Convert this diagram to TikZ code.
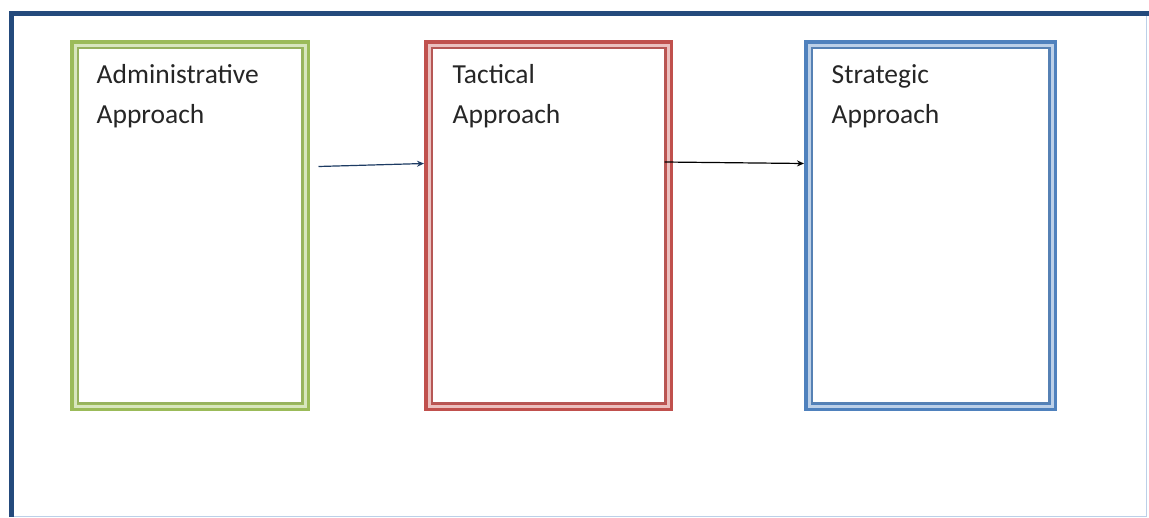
\documentclass[tikz,border=0pt]{standalone}
\usepackage{fontspec}
\setmainfont{Carlito}
\usetikzlibrary{arrows.meta}
\definecolor{frameblue}{HTML}{244A7C}
\definecolor{grnA}{HTML}{9BBB59}
\definecolor{grnB}{HTML}{D8E6BE}
\definecolor{redA}{HTML}{C0504D}
\definecolor{redB}{HTML}{EBC0BF}
\definecolor{bluA}{HTML}{4F81BD}
\definecolor{bluB}{HTML}{BCD0E8}
\definecolor{txt}{HTML}{262626}
\tikzset{
  boxouter/.style={draw=#1, line width=7pt, minimum height=364pt, inner sep=0pt},
  bandlight/.style={draw=#1, line width=3pt},
  bandthin/.style={draw=#1, line width=1.5pt},
  lbl/.style={font=\fontsize{27.5}{40}\selectfont, text=txt, align=left, inner sep=0pt, anchor=base west},
  arr/.style={line width=1.2pt, -{Stealth[length=7pt,width=6pt]}}
}
\begin{document}
\begin{tikzpicture}[x=1pt,y=-1pt]
\useasboundingbox (0,0) rectangle (1149,517);
\fill[white] (0,0) rectangle (1149,517);
% outer frame
\draw[line width=0.8pt, draw=bluB] (1146,13) -- (1146,516) -- (12,516);
\draw[line width=5pt, draw=frameblue] (11.5,517) -- (11.5,13) -- (1149,13);
% boxes
\node[boxouter=grnA, minimum width=233pt] (g) at (190,225.5) {};
\node[boxouter=redA, minimum width=242pt] (r) at (548.5,225.5) {};
\node[boxouter=bluA, minimum width=246pt] (b) at (930.5,225.5) {};
\foreach \n/\l/\t in {g/grnB/grnA, r/redB/redA, b/bluB/bluA}{
  \draw[bandlight=\l] ([shift={(5,5)}]\n.north west) rectangle ([shift={(-5,-5)}]\n.south east);
  \draw[bandthin=\t!85!gray] ([shift={(8,8)}]\n.north west) rectangle ([shift={(-8,-8)}]\n.south east);
}
% labels (base = baseline of the last line)
\node[lbl] (gt) at ([shift={(26.5,83.5)}]g.north west) {Administrative\\Approach};
\node[lbl] (rt) at ([shift={(28.5,83.5)}]r.north west) {Tactical\\Approach};
\node[lbl] (bt) at ([shift={(27.5,83.5)}]b.north west) {Strategic\\Approach};
% arrows
\draw[arr, draw=frameblue!80!black] ([shift={(8.5,126.5)}]g.north east) -- ([shift={(0,123.5)}]r.north west);
\draw[arr, draw=black] ([shift={(-8.5,122)}]r.north east) -- ([shift={(0,123.5)}]b.north west);
\end{tikzpicture}
\end{document}
